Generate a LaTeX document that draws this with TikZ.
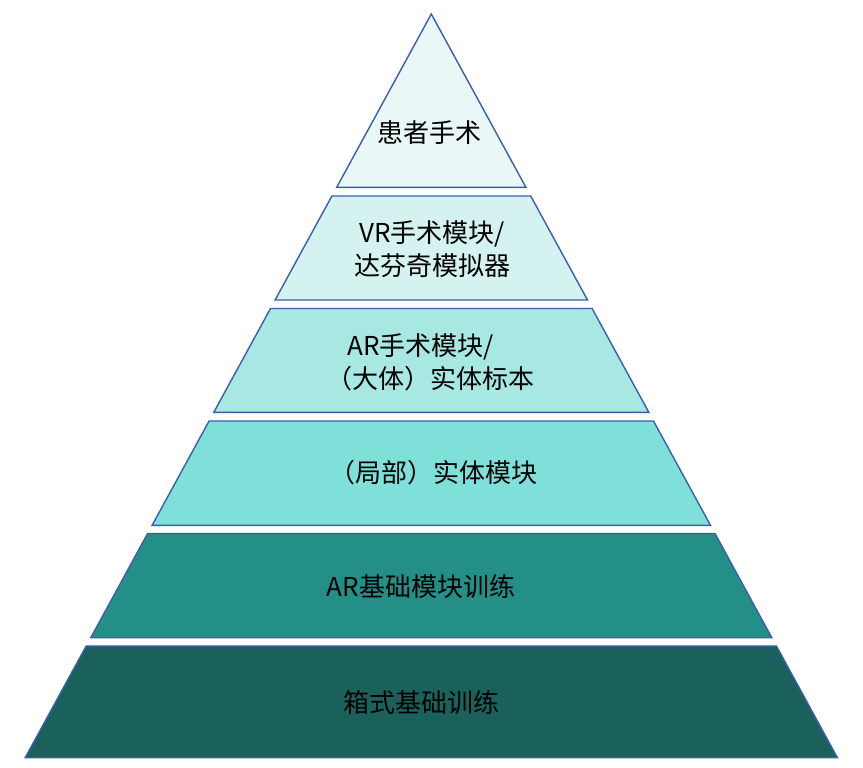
\documentclass[tikz,border=0pt]{standalone}
\usepackage{fontspec}
\setmainfont{Noto Sans CJK SC}
\definecolor{edge}{HTML}{3A5EAD}
\definecolor{cA}{HTML}{E9F8F6}
\definecolor{cB}{HTML}{D4F3F0}
\definecolor{cC}{HTML}{A8E8E2}
\definecolor{cD}{HTML}{7FE0D9}
\definecolor{cE}{HTML}{248F87}
\definecolor{cF}{HTML}{19615A}
\begin{document}
\begin{tikzpicture}[x=1pt,y=-1pt,
  layer/.style={draw=edge,line width=1.4pt,line join=miter},
  lbl/.style={font=\fontsize{26}{33}\selectfont,text=black,inner sep=0pt}]
\useasboundingbox (0,0) rectangle (863,768);
\fill[white] (0,0) rectangle (863,768);
\draw[layer,fill=cA] (431.3,14) -- (525.9,187.3) -- (336.7,187.3) -- cycle;
\draw[layer,fill=cB] (331.9,196) -- (530.7,196) -- (587.5,300) -- (275.1,300) -- cycle;
\draw[layer,fill=cC] (270.5,308.5) -- (592.1,308.5) -- (648.8,412.3) -- (213.8,412.3) -- cycle;
\draw[layer,fill=cD] (209.1,421) -- (653.5,421) -- (710.5,525.3) -- (152.1,525.3) -- cycle;
\draw[layer,fill=cE] (147.6,533.5) -- (715.0,533.5) -- (771.8,637.7) -- (90.8,637.7) -- cycle;
\draw[layer,fill=cF] (86.2,646) -- (776.4,646) -- (837.4,757.7) -- (25.2,757.7) -- cycle;
\node[lbl] (t1) at (429,133) {患者手术};
\node[lbl,align=center] (t2) at (432,249) {VR手术模块/\\达芬奇模拟器};
\node[lbl,align=left,anchor=west] (t3) at (326,362) {\hspace*{21pt}AR手术模块/\\（大体）实体标本};
\node[lbl] (t4) at (433,473) {（局部）实体模块};
\node[lbl] (t5) at (421,587) {AR基础模块训练};
\node[lbl] (t6) at (421,703) {箱式基础训练};
\end{tikzpicture}
\end{document}
